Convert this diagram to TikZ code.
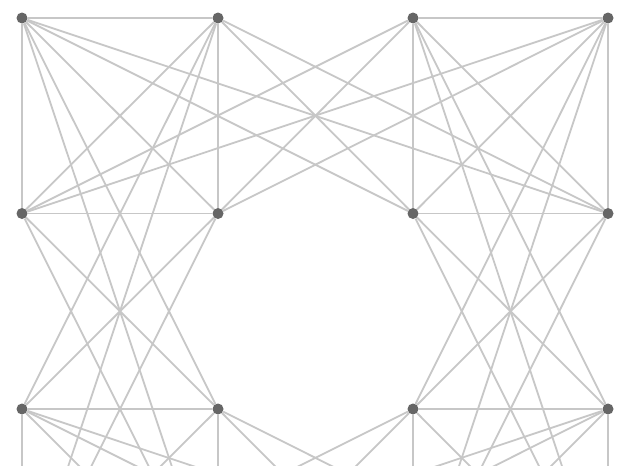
\documentclass[tikz,border=0pt]{standalone}
\usetikzlibrary{backgrounds}
\begin{document}
\begin{tikzpicture}[x=1pt,y=-1pt,
  vtx/.style={circle,fill=black!60,inner sep=0pt,minimum size=11pt},
  edge/.style={draw=black!22,line width=1.8pt}]
\useasboundingbox (0,0) rectangle (619,466);
% nodes: columns 1..4, rows 1..4 (row 4 lies below the visible area)
\foreach \c/\x in {1/22,2/218,3/413,4/608}{
  \foreach \r/\y in {1/18,2/213.5,3/409,4/604.5}{
    \node[vtx] (n\c\r) at (\x,\y) {};
  }
}
\begin{scope}[on background layer]
\fill[white] (0,0) rectangle (619,466);
% complete graph inside every 2x2 block
\foreach \a/\b in {0/0,2/0,0/2,2/2}{
  \pgfmathtruncatemacro{\ca}{\a+1}\pgfmathtruncatemacro{\cb}{\a+2}
  \pgfmathtruncatemacro{\ra}{\b+1}\pgfmathtruncatemacro{\rb}{\b+2}
  \draw[edge] (n\ca\ra) -- (n\cb\ra);
  \draw[edge] (n\ca\rb) -- (n\cb\rb);
  \draw[edge] (n\ca\ra) -- (n\ca\rb);
  \draw[edge] (n\cb\ra) -- (n\cb\rb);
  \draw[edge] (n\ca\ra) -- (n\cb\rb);
  \draw[edge] (n\cb\ra) -- (n\ca\rb);
}
% between horizontally adjacent blocks: change of row
\foreach \c in {1,2}{
  \foreach \d in {3,4}{
    \draw[edge] (n\c1) -- (n\d2);
    \draw[edge] (n\c2) -- (n\d1);
    \draw[edge] (n\c3) -- (n\d4);
    \draw[edge] (n\c4) -- (n\d3);
  }
}
% between vertically adjacent blocks: change of column
\foreach \r in {1,2}{
  \foreach \s in {3,4}{
    \draw[edge] (n1\r) -- (n2\s);
    \draw[edge] (n2\r) -- (n1\s);
    \draw[edge] (n3\r) -- (n4\s);
    \draw[edge] (n4\r) -- (n3\s);
  }
}
\end{scope}
\end{tikzpicture}
\end{document}
